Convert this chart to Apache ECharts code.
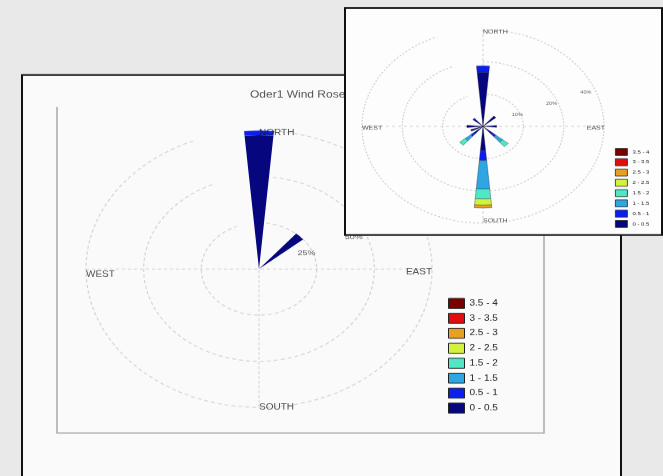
<!DOCTYPE html>
<html><head><meta charset="utf-8">
<script src="https://cdn.jsdelivr.net/npm/echarts@6/dist/echarts.min.js"></script>
<style>
html,body{margin:0;padding:0;width:663px;height:476px;overflow:hidden;background:#e9e9e9;}
#chart{width:663px;height:595px;transform:scale(1,0.8);transform-origin:0 0;}
</style></head><body><div id="chart"></div>
<script>
// ---------------- data ----------------
const directions = ['N','NNE','NE','ENE','E','ESE','SE','SSE','S','SSW','SW','WSW','W','WNW','NW','NNW'];
const speedBins = ['0 - 0.5','0.5 - 1','1 - 1.5','1.5 - 2','2 - 2.5','2.5 - 3','3 - 3.5','3.5 - 4'];
const compassDirs = ['N','E','S','W'];
const compassLabels = ['NORTH','EAST','SOUTH','WEST'];
const leftTitle = 'Oder1 Wind Rose';
const leftRingTicks = [25, 50, 75];
const leftRingLabels = ['25%', '50%', '75%'];
const rightRingTicks = [10, 20, 30];
const rightRingLabels = ['10%', '20%', '40%'];

// left rose (percent frequency per direction, one array per speed bin)
const left_0_05   = [72.5,0,25,0,0,0,0,0,0,0,0,0,0,0,0,0];
const left_05_1   = [3,0,0,0,0,0,0,0,0,0,0,0,0,0,0,0];
const left_1_15   = [0,0,0,0,0,0,0,0,0,0,0,0,0,0,0,0];
const left_15_2   = [0,0,0,0,0,0,0,0,0,0,0,0,0,0,0,0];
const left_2_25   = [0,0,0,0,0,0,0,0,0,0,0,0,0,0,0,0];
const left_25_3   = [0,0,0,0,0,0,0,0,0,0,0,0,0,0,0,0];
const left_3_35   = [0,0,0,0,0,0,0,0,0,0,0,0,0,0,0,0];
const left_35_4   = [0,0,0,0,0,0,0,0,0,0,0,0,0,0,0,0];

// right rose
const right_0_05  = [16.8,0,4.2,0,3.4,0,3.0,0,7.5,0,3.0,3.2,4.0,0,3.0,0];
const right_05_1  = [2.0,0,0,0,0,0,1.2,0,3.1,0,1.0,0,0,0,0.3,0];
const right_1_15  = [0,0,0,0,0,0,2.2,0,8.8,0,1.8,0,0,0,0,0];
const right_15_2  = [0,0,0,0,0,0,1.8,0,3.1,0,1.8,0,0,0,0,0];
const right_2_25  = [0,0,0,0,0,0,0,0,1.9,0,0,0,0,0,0,0];
const right_25_3  = [0,0,0,0,0,0,0,0,0.9,0,0,0,0,0,0,0];
const right_3_35  = [0,0,0,0,0,0,0,0,0,0,0,0,0,0,0,0];
const right_35_4  = [0,0,0,0,0,0,0,0,0,0,0,0,0,0,0,0];

// ---------------- styles ----------------
const binColors = ['#06067f','#0a1ef0','#2ea6e4','#4ee8c4','#d2f23e','#e6a123','#e30d0d','#7a0000'];
const FONT = 'Liberation Sans, Arial, sans-serif';
const leftBins = [left_0_05,left_05_1,left_1_15,left_15_2,left_2_25,left_25_3,left_3_35,left_35_4];
const rightBins = [right_0_05,right_05_1,right_1_15,right_15_2,right_2_25,right_25_3,right_3_35,right_35_4];

const chart = echarts.init(document.getElementById('chart'));

const series = [];
speedBins.forEach((name, i) => {
  series.push({
    type: 'bar', coordinateSystem: 'polar', polarIndex: 0, stack: 'leftRose', name,
    data: leftBins[i].map(v => v === 0 ? '-' : v),
    barWidth: '44%', itemStyle: { color: binColors[i] }, z: 12, silent: true
  });
  series.push({
    type: 'bar', coordinateSystem: 'polar', polarIndex: 1, stack: 'rightRose', name,
    data: rightBins[i].map(v => v === 0 ? '-' : v),
    barWidth: '44%', itemStyle: { color: binColors[i], borderColor: 'rgba(20,20,40,0.55)', borderWidth: 0.6 },
    z: 62, silent: true
  });
});

function compassSeries(polarIndex, rMax, fontSize, place, z) {
  return {
    type: 'scatter', coordinateSystem: 'polar', polarIndex, symbolSize: 1, silent: true, z,
    itemStyle: { color: 'rgba(0,0,0,0)' },
    label: { show: true },
    data: compassDirs.map((d, i) => ({
      value: [rMax, directions.indexOf(d)],
      label: {
        show: true, position: 'inside', formatter: compassLabels[i],
        align: place[d].align, verticalAlign: 'middle', offset: place[d].offset,
        fontSize, color: '#1c1c1c', fontFamily: FONT
      }
    }))
  };
}
function ringSeries(polarIndex, ticks, labels, factor, fontSize, z) {
  return {
    type: 'scatter', coordinateSystem: 'polar', polarIndex, symbolSize: 1, silent: true, z,
    itemStyle: { color: 'rgba(0,0,0,0)' },
    label: { show: true },
    data: ticks.map((t, i) => ({
      value: [t * factor, directions.indexOf('ENE')],
      label: {
        show: true, position: 'inside', formatter: labels[i],
        align: 'center', verticalAlign: 'middle',
        fontSize, color: '#333', fontFamily: FONT
      }
    }))
  };
}

series.push(compassSeries(0, leftRingTicks[leftRingTicks.length - 1], 10, {
  N: { align: 'left', offset: [0, 3] },
  E: { align: 'right', offset: [0, 4] },
  S: { align: 'left', offset: [0, 0] },
  W: { align: 'left', offset: [0, 7] }
}, 13));
series.push(compassSeries(1, rightRingTicks[rightRingTicks.length - 1], 7, {
  N: { align: 'left', offset: [0, 3] },
  E: { align: 'right', offset: [1, 2] },
  S: { align: 'left', offset: [0, -3] },
  W: { align: 'left', offset: [0, 2] }
}, 63));
series.push(ringSeries(0, leftRingTicks, leftRingLabels, 0.89, 9, 13));
series.push(ringSeries(1, rightRingTicks, rightRingLabels, 0.92, 5.5, 63));

function angleAxisCfg(polarIndex, z, color) {
  return {
    polarIndex, type: 'category', data: directions, boundaryGap: false,
    startAngle: 90, clockwise: true, z,
    axisLine: { show: false },
    axisTick: { show: false, interval: 3 },
    axisLabel: { show: false, interval: 3 },
    splitLine: { show: true, lineStyle: { color, type: [3, 3], width: 1 } }
  };
}
function radiusAxisCfg(polarIndex, ticks, z, color, dash) {
  return {
    polarIndex, type: 'value', min: 0, max: ticks[ticks.length - 1], interval: ticks[0], z,
    axisLine: { show: false }, axisTick: { show: false }, axisLabel: { show: false },
    splitLine: { show: true, lineStyle: { color, type: dash, width: 1.2 } }
  };
}

const option = {
  animation: false,
  backgroundColor: '#e9e9e9',
  graphic: { elements: [
    { type: 'rect', shape: { x: 22, y: 93.75, width: 599, height: 530 },
      style: { fill: '#fafafa', stroke: '#111', lineWidth: 2 }, z: 1, silent: true },
    { type: 'polyline', shape: { points: [[57, 133.75], [57, 541.25], [544, 541.25], [544, 133.75]] },
      style: { stroke: '#a9a9a9', lineWidth: 1.5, fill: null }, z: 2, silent: true },
    { type: 'rect', shape: { x: 345, y: 10, width: 317, height: 283.75 },
      style: { fill: '#fdfdfd', stroke: '#111', lineWidth: 2 }, z: 50, silent: true }
  ]},
  title: {
    text: leftTitle, left: 250, top: 113, padding: 0, z: 12,
    textStyle: { fontSize: 12, color: '#555', fontWeight: 'normal', fontFamily: FONT }
  },
  polar: [
    { center: [259, 336.25], radius: 173 },
    { center: [483, 158], radius: 121 }
  ],
  angleAxis: [angleAxisCfg(0, 10, '#cdcdcd'), angleAxisCfg(1, 60, '#cdcdcd')],
  radiusAxis: [
    radiusAxisCfg(0, leftRingTicks, 10, '#d4d4d4', [4, 3]),
    radiusAxisCfg(1, rightRingTicks, 60, '#cfcfcf', [2, 2])
  ],
  legend: [
    { data: speedBins.slice().reverse(), orient: 'vertical', left: 448, top: 372.5, padding: 0,
      itemWidth: 16, itemHeight: 12.5, itemGap: 5.2, icon: 'rect', selectedMode: false, z: 12,
      itemStyle: { borderColor: '#222', borderWidth: 1 },
      textStyle: { fontSize: 10, color: '#222', fontFamily: FONT } },
    { data: speedBins.slice().reverse(), orient: 'vertical', left: 615, top: 185.2, padding: 0,
      itemWidth: 12, itemHeight: 8.75, itemGap: 3.3, icon: 'rect', selectedMode: false, z: 62,
      itemGap: 3.3, itemStyle: { borderColor: '#222', borderWidth: 0.8 },
      textStyle: { fontSize: 6, color: '#222', fontFamily: FONT } }
  ],
  series
};
chart.setOption(option);
</script></body></html>
